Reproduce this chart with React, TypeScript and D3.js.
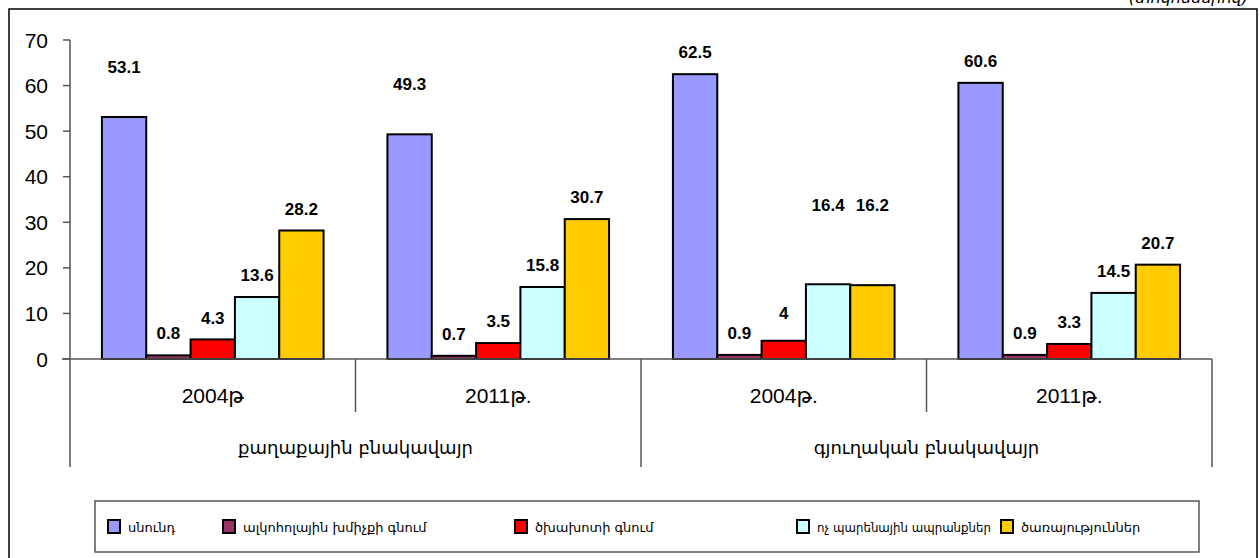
import React, { useEffect, useRef } from "react";
import * as d3 from "d3";

// categories (year) and their outer groups
const years = ["2004թ", "2011թ.", "2004թ.", "2011թ."];
const groups = ["քաղաքային բնակավայր", "գյուղական բնակավայր"];
const seriesNames = [
  "սնունդ",
  "ալկոհոլային խմիչքի գնում",
  "ծխախոտի գնում",
  "ոչ պարենային ապրանքներ",
  "ծառայություններ",
];
const seriesColors = ["#9999FF", "#993366", "#FF0000", "#CCFFFF", "#FFCC00"];

// one array per series, in the order of `years`
const food = [53.1, 49.3, 62.5, 60.6];
const alcohol = [0.8, 0.7, 0.9, 0.9];
const tobacco = [4.3, 3.5, 4, 3.3];
const nonFood = [13.6, 15.8, 16.4, 14.5];
const services = [28.2, 30.7, 16.2, 20.7];
const values = [food, alcohol, tobacco, nonFood, services];

const yTicks = [0, 10, 20, 30, 40, 50, 60, 70];

// labels that were dragged higher in the original chart (px)
const labelLift: Record<string, number> = {
  "0-0": 28,
  "1-0": 28,
  "2-2": 6,
  "2-3": 57,
  "2-4": 58,
};

const legendX = [108, 223, 515, 797, 1001];

const W = 1260;
const H = 558;
const num = "'Liberation Sans', Arial, 'DejaVu Sans', sans-serif";
const arm = "'DejaVu Sans', sans-serif";

export default function App() {
  const legendRef = useRef<SVGGElement>(null);

  const x0 = d3.scaleBand<number>().domain(d3.range(years.length)).range([70, 1212]);
  const x1 = d3
    .scaleBand<number>()
    .domain(d3.range(seriesNames.length))
    .range([0, x0.bandwidth()])
    .paddingOuter(0.72);
  const y = d3.scaleLinear().domain([0, 70]).range([359, 40]);
  const axisColor = "#555";

  // squeeze legend texts that would run into the next entry
  useEffect(() => {
    if (!legendRef.current) return;
    d3.select(legendRef.current)
      .selectAll<SVGTextElement, unknown>("text")
      .each(function (_, i) {
        const next = i + 1 < legendX.length ? legendX[i + 1] : 1190;
        const room = next - legendX[i] - 30;
        if (this.getComputedTextLength() > room) {
          d3.select(this).attr("textLength", room).attr("lengthAdjust", "spacingAndGlyphs");
        }
      });
  }, []);

  return (
    <svg
      width={W}
      height={H}
      style={{ position: "absolute", left: 0, top: 0, background: "#fff" }}
    >
      <rect x={9} y={9} width={1248} height={580} fill="#fff" stroke="#000" strokeWidth={1.5} />
      <text
        x={1248}
        y={3}
        textAnchor="end"
        fontFamily={arm}
        fontStyle="italic"
        fontSize={16}
      >
        (տոկոսներով)
      </text>

      {/* y axis */}
      <line x1={70} x2={70} y1={y(70)} y2={y(0)} stroke={axisColor} strokeWidth={1.5} />
      {yTicks.map((t) => (
        <g key={t}>
          <line x1={63} x2={70} y1={y(t)} y2={y(t)} stroke={axisColor} strokeWidth={1.5} />
          <text
            x={48}
            y={y(t)}
            dy="0.36em"
            textAnchor="end"
            fontFamily={num}
            fontSize={21}
          >
            {t}
          </text>
        </g>
      ))}

      {/* bars */}
      {years.map((_, gi) =>
        values.map((vals, si) => {
          const v = vals[gi];
          const bx = (x0(gi) as number) + (x1(si) as number);
          return (
            <rect
              key={`${gi}-${si}`}
              x={bx}
              y={y(v)}
              width={x1.bandwidth()}
              height={y(0) - y(v)}
              fill={seriesColors[si]}
              stroke="#000"
              strokeWidth={2}
            />
          );
        })
      )}

      {/* data labels */}
      {years.map((_, gi) =>
        values.map((vals, si) => {
          const v = vals[gi];
          const cx = (x0(gi) as number) + (x1(si) as number) + x1.bandwidth() / 2;
          const lift = labelLift[`${gi}-${si}`] ?? 0;
          return (
            <text
              key={`l${gi}-${si}`}
              x={cx}
              y={y(v) - 22 - lift}
              dy="0.36em"
              textAnchor="middle"
              fontFamily={num}
              fontWeight="bold"
              fontSize={17}
            >
              {v}
            </text>
          );
        })
      )}

      {/* x axis and category separators */}
      <line x1={62} x2={1212} y1={y(0)} y2={y(0)} stroke={axisColor} strokeWidth={1.5} />
      {d3.range(years.length + 1).map((i) => {
        const xx = i === years.length ? 1212 : (x0(i) as number);
        const long = i % 2 === 0;
        return (
          <line
            key={`t${i}`}
            x1={xx}
            x2={xx}
            y1={y(0)}
            y2={long ? 467 : 412}
            stroke={axisColor}
            strokeWidth={1.5}
          />
        );
      })}
      {years.map((yr, i) => (
        <text
          key={`y${i}`}
          x={(x0(i) as number) + x0.bandwidth() / 2}
          y={395}
          dy="0.36em"
          textAnchor="middle"
          fontFamily={num}
          fontSize={21}
        >
          {yr}
        </text>
      ))}
      {groups.map((g, i) => (
        <text
          key={`g${i}`}
          x={(x0(i * 2) as number) + x0.bandwidth()}
          y={448}
          dy="0.36em"
          textAnchor="middle"
          fontFamily={arm}
          fontSize={18}
        >
          {g}
        </text>
      ))}

      {/* legend */}
      <rect x={95} y={501} width={1104} height={51} fill="#fff" stroke={axisColor} strokeWidth={1.5} />
      <g ref={legendRef}>
        {seriesNames.map((name, i) => (
          <g key={`lg${i}`} transform={`translate(${legendX[i]},527)`}>
            <rect x={0} y={-7} width={12} height={13} fill={seriesColors[i]} stroke="#000" strokeWidth={2} />
            <text x={20} y={0} dy="0.36em" fontFamily={arm} fontSize={13}>
              {name}
            </text>
          </g>
        ))}
      </g>
    </svg>
  );
}
